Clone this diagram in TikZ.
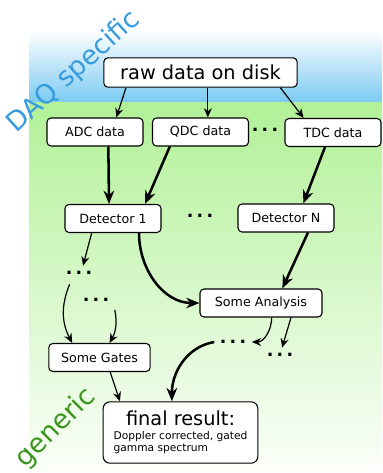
\documentclass[tikz,border=0pt]{standalone}
\usepackage{fontspec}
\setmainfont{DejaVu Sans}
\usetikzlibrary{arrows.meta}

\definecolor{daqblue}{RGB}{122,201,242}
\definecolor{gengreen}{RGB}{178,241,152}
\definecolor{daqtext}{RGB}{55,155,222}
\definecolor{gentext}{RGB}{58,150,30}

\newcommand{\moredots}{.\hspace{2.5pt}.\hspace{2.5pt}.}

\begin{document}
\begin{tikzpicture}[x = 0.75pt, y = -0.75pt,
    box/.style = {draw, rounded corners = 3pt, fill = white, line width = 0.8pt,
                  minimum width = 72pt, minimum height = 21pt, inner sep = 2pt,
                  font = \fontsize{9.5}{11}\selectfont},
    dots/.style = {inner sep = 4pt, font = \fontsize{13}{13}\selectfont\bfseries},
    flowthin/.style = {-{Stealth[length = 7pt, width = 6pt]}, line width = 0.9pt},
    flowthick/.style = {-{Stealth[length = 10pt, width = 8pt]}, line width = 1.9pt}]
    \useasboundingbox (0,0) rectangle (382,473);

    % background bands
    \shade[top color = white, bottom color = daqblue] (29,30) rectangle (382,103);
    \shade[top color = gengreen, bottom color = gengreen!5] (29,103) rectangle (382,473);
    \node[rotate = 42, text = daqtext, font = \fontsize{20}{20}\selectfont] (daq) at (74,72) {DAQ specific};
    \node[rotate = 45, text = gentext, font = \fontsize{20}{20}\selectfont] (gen) at (56,428) {generic};

    % nodes
    \node[box, minimum width = 145pt, minimum height = 22pt, font = \fontsize{14.5}{16}\selectfont] (raw) at (200.5,72.5) {raw data on disk};
    \node[box] (adc) at (95,132) {ADC data};
    \node[box] (qdc) at (200.5,132) {QDC data};
    \node[dots] (dotsQ) at (265,130) {\moredots};
    \node[box] (tdc) at (333,132.5) {TDC data};
    \node[box] (det1) at (113,218.5) {Detector 1};
    \node[dots] (dotsD) at (200,216) {\moredots};
    \node[box] (detN) at (286,218) {Detector N};
    \node[dots] (dotsA) at (79,273) {\moredots};
    \node[dots] (dotsB) at (96,300) {\moredots};
    \node[box, minimum width = 91.5pt] (ana) at (261,303) {Some Analysis};
    \node[box, minimum width = 76pt] (gates) at (99.5,357.5) {Some Gates};
    \node[dots] (dotsC) at (233,342) {\moredots};
    \node[dots] (dotsE) at (280,355) {\moredots};
    \node[box, rounded corners = 5pt, minimum width = 116pt, minimum height = 46pt, align = center] (final) at (180.5,432.5)
        {{\fontsize{14.5}{16}\selectfont final result:}\\[3pt]
         {\fontsize{8}{9}\selectfont\begin{tabular}{@{}l@{}}Doppler corrected, gated\\gamma spectrum\end{tabular}}};

    % connectors
    \draw[flowthin] ([xshift = 17pt]raw.south west) -- ([xshift = 16pt]adc.north);
    \draw[flowthin] ([xshift = 5.5pt]raw.south) -- ([xshift = 5.5pt]qdc.north);
    \draw[flowthin] ([xshift = -13pt]raw.south east) -- ([xshift = -22pt]tdc.north);
    \draw[flowthick] ([xshift = 10pt]adc.south) -- ([xshift = -3pt]det1.north);
    \draw[flowthick] ([xshift = -23pt]qdc.south) -- ([xshift = 24pt]det1.north);
    \draw[flowthick] ([xshift = -6pt]tdc.south) -- ([xshift = 13pt]detN.north);
    \draw[flowthin] ([xshift = -16pt]det1.south) -- ([xshift = 3pt]dotsA.north);
    \draw[flowthick] ([xshift = 19.5pt]det1.south) to[out = -90, in = 180] (ana.west);
    \draw[flowthick] ([xshift = 16.5pt]detN.south) -- ([xshift = 16pt]ana.north);
    \draw[flowthin] ([xshift = -7pt, yshift = -3pt]dotsA.south) to[bend right = 25] ([xshift = -20.5pt]gates.north);
    \draw[flowthin] ([xshift = 0pt, yshift = -2pt]dotsB.south east) to[bend left = 20] ([xshift = 7.5pt]gates.north);
    \draw[flowthin] ([xshift = 8pt]ana.south) to[out = -90, in = 0] (dotsC.east);
    \draw[flowthin] ([xshift = 22.5pt]ana.south) -- ([xshift = 1.5pt]dotsE.north);
    \draw[flowthick] (dotsC.west) to[out = 190, in = 90] ([xshift = -6.5pt]final.north);
    \draw[flowthin] ([xshift = 8pt]gates.south) -- ([xshift = 13pt]final.north west);
\end{tikzpicture}
\end{document}
